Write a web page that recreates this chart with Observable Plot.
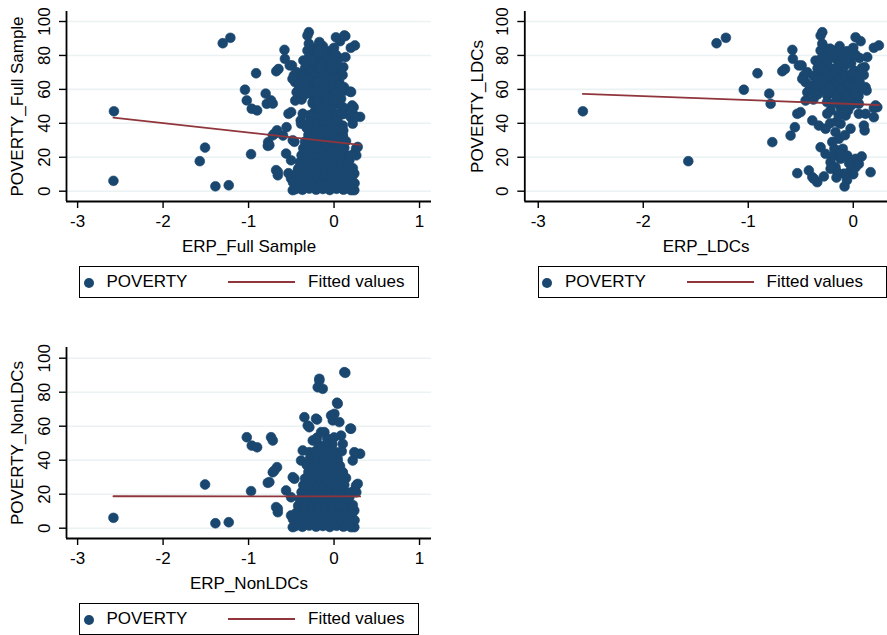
<!DOCTYPE html>
<html>
<head>
<meta charset="utf-8">
<script src="https://cdn.jsdelivr.net/npm/d3@7"></script>
<script src="https://cdn.jsdelivr.net/npm/@observablehq/plot@0.6"></script>
<style>
  html, body { margin: 0; padding: 0; background: #fff; }
  #root { position: relative; width: 887px; height: 635px; overflow: hidden; background: #fff;
          font-family: "Liberation Sans", Arial, sans-serif; }
  .panel { position: absolute; }
  .legend { position: absolute; height: 32px; box-sizing: border-box; border: 1.5px solid #000;
            background: #fff; font-size: 17px; color: #000; }
  .legend .dot { position: absolute; top: 10.5px; width: 10px; height: 10px; border-radius: 50%; background: #1a476f; }
  .legend .ln { position: absolute; top: 14.2px; height: 1.8px; background: #90353b; }
  .legend .lbl { position: absolute; top: 0; line-height: 29px; white-space: nowrap; }
</style>
</head>
<body>
<div id="root"></div>
<script>
// ---- Data ----
const ldcPoints = [
  [-2.575,47.1],[-1.571,17.7],[-1.302,87.2],[-1.213,90.4],[-1.042,59.8],[-0.912,69.5],
  [-0.800,57.5],[-0.787,51.5],[-0.771,28.9],[-0.676,70.7],[-0.650,72.0],[-0.580,83.3],
  [-0.575,78.0],[-0.597,32.8],[-0.556,37.7],[-0.533,10.6],[-0.533,45.6],[-0.502,46.6],
  [-0.492,74.1],[-0.470,68.2],[-0.454,64.2],[-0.423,58.9],[-0.454,53.4],[-0.423,12.2],
  [-0.390,8.3],[-0.343,5.3],[-0.280,8.7],[-0.311,25.9],[-0.390,41.7],[-0.328,38.7],
  [-0.295,93.7],[-0.311,91.7],[-0.359,77.0],[-0.311,82.9],[-0.280,84.9],[0.022,90.7],
  [0.070,88.4],[0.244,85.9],[0.196,84.5],[0.133,79.0],[0.108,73.1],[0.117,61.3],
  [0.127,59.3],[-0.295,86.9],[-0.152,81.9],[-0.026,81.9],[-0.026,79.0],[-0.518,74.1],
  [-0.438,70.1],[-0.486,66.2],[-0.407,62.3],[-0.438,58.3],[-0.248,75.1],[-0.121,77.0],
  [-0.280,68.2],[-0.216,65.2],[-0.121,69.2],[-0.057,66.2],[0.006,71.1],[0.022,64.2],
  [-0.169,61.3],[-0.057,59.3],[-0.248,56.4],[-0.121,54.4],[-0.010,54.4],[0.212,50.5],
  [0.053,51.5],[-0.311,60.3],[-0.343,65.2],[-0.264,36.8],[-0.216,47.6],[-0.248,45.6],
  [-0.121,49.5],[-0.073,44.6],[-0.121,39.7],[-0.169,34.8],[-0.137,30.9],[-0.026,36.8],
  [0.053,45.6],[0.117,45.6],[0.196,43.6],[0.101,38.7],[0.108,35.8],[-0.264,22.0],
  [-0.216,17.1],[-0.169,14.1],[-0.121,19.1],[-0.057,21.0],[0.022,19.1],[-0.026,12.2],
  [-0.089,10.3],[0.022,14.1],[-0.152,11.2],[-0.216,13.2],[-0.375,7.3],[-0.083,2.8],
  [0.165,11.2],[0.053,16.1],[0.229,49.5],[0.196,49.0],[-0.200,72.0],[-0.180,78.5],
  [-0.080,74.0],[-0.240,80.5],[-0.100,63.0],[-0.200,58.0],[-0.060,82.5],[0.060,78.5],
  [-0.310,70.5],[-0.380,54.0],[-0.160,41.0],[-0.200,29.0],[-0.100,25.0],[-0.180,52.0],
  [0.000,60.5],[0.050,56.0],[-0.130,85.5],[-0.050,47.5],[-0.250,52.5],
  [-0.340,72.5],[-0.260,71.0],[-0.180,68.5],[-0.100,71.5],[-0.020,75.5],[0.040,68.0],
  [-0.300,78.5],[-0.220,84.0],[-0.140,75.0],[-0.060,78.0],[0.000,84.5],[-0.360,61.5],
  [-0.280,63.5],[-0.140,65.5],[-0.040,62.5],[0.060,64.5],[0.100,68.5],[-0.260,59.0],
  [-0.160,56.0],[-0.080,57.5],[0.020,57.5],[-0.200,83.0],[-0.340,57.0],[-0.100,52.0],
  [-0.020,50.5],[-0.140,45.0],[-0.220,40.0],[-0.080,33.0],[-0.180,25.0],[-0.120,22.0],
  [-0.040,16.5],[-0.200,20.5],[0.080,20.5],[-0.160,8.0],[-0.060,6.5],[0.000,10.0],
  [-0.320,75.5],[-0.240,67.5],[-0.160,72.5],[-0.080,68.0],[-0.020,69.0],[0.080,72.5],
  [-0.260,77.5],[-0.100,80.0],[-0.180,62.5],[-0.300,66.5],[-0.220,61.0],[0.020,80.5],
  [-0.380,68.0],[-0.120,59.5],[0.090,60.5],[-0.060,55.0]
];
const nonLdcPoints = [
  [-2.581,6.1],[-1.509,25.7],[-1.388,2.9],[-1.232,3.5],[-1.021,53.5],[-0.963,48.6],
  [-0.900,47.6],[-0.971,21.8],[-0.737,53.5],[-0.717,51.6],[-0.667,35.9],[-0.717,32.9],
  [-0.775,26.7],[-0.678,12.4],[-0.658,9.4],[-0.561,22.2],[-0.503,18.2],[-0.464,29.1],
  [-0.503,7.5],[-0.483,0.6],[-0.386,39.8],[-0.347,65.3],[-0.308,60.4],[-0.211,64.4],
  [-0.172,86.9],[-0.191,82.9],[-0.132,82.0],[0.043,73.2],[0.120,91.8],[0.004,67.3],
  [-0.015,63.4],[0.062,62.4],[0.199,58.5],[0.082,54.5],[0.102,49.6],[0.237,44.7],
  [0.305,43.8],[0.218,39.8],[-0.152,56.5],[-0.249,51.6],[-0.366,45.7],[-0.094,47.6],
  [-0.191,39.8],[0.043,39.8],[0.102,32.9],[0.257,25.1],[0.237,22.2],[0.218,9.4],
  [0.237,0.6],[-0.172,87.9],[0.132,91.4],[0.035,73.8],[-0.199,63.9],[-0.035,66.3],
  [0.190,58.6],[-0.289,59.4],[-0.113,56.5],[-0.698,33.9],[-0.757,27.1],[-0.658,11.4],
  [-0.483,30.0],[-0.289,44.7],[0.257,43.8],[0.277,26.1],[0.179,18.2],[0.237,10.4],
  [0.199,0.6],
  [-0.45,1.2],[-0.37,0.8],[-0.29,1.5],[-0.21,0.9],[-0.13,1.3],[-0.05,0.7],[0.03,1.4],[0.11,0.9],[0.19,1.8],
  [-0.48,5.2],[-0.40,4.6],[-0.32,5.5],[-0.24,4.8],[-0.16,5.3],[-0.08,4.5],[0.00,5.6],[0.08,4.9],[0.16,5.2],[0.24,4.7],
  [-0.44,9.1],[-0.36,8.7],[-0.28,9.5],[-0.20,8.8],[-0.12,9.3],[-0.04,8.6],[0.04,9.4],[0.12,8.9],[0.20,9.2],
  [-0.42,13.2],[-0.34,12.6],[-0.26,13.5],[-0.18,12.8],[-0.10,13.3],[-0.02,12.7],[0.06,13.4],[0.14,12.9],[0.22,13.6],
  [-0.40,17.1],[-0.32,16.6],[-0.24,17.4],[-0.16,16.8],[-0.08,17.3],[0.00,16.7],[0.08,17.5],[0.16,16.9],
  [-0.38,21.2],[-0.30,20.7],[-0.22,21.4],[-0.14,20.8],[-0.06,21.3],[0.02,20.6],[0.10,21.5],[0.18,20.9],[0.26,21.1],
  [-0.36,25.3],[-0.28,24.8],[-0.20,25.5],[-0.12,24.7],[-0.04,25.2],[0.04,24.9],[0.12,25.6],
  [-0.34,29.2],[-0.26,28.7],[-0.18,29.4],[-0.10,28.8],[-0.02,29.3],[0.06,28.6],[0.14,29.5],
  [-0.30,33.1],[-0.22,32.6],[-0.14,33.4],[-0.06,32.8],[0.02,33.3],[0.10,32.7],
  [-0.32,37.2],[-0.24,36.7],[-0.16,37.4],[-0.08,36.8],[0.00,37.3],[0.07,36.6],
  [-0.28,41.1],[-0.20,40.6],[-0.12,41.4],[-0.04,40.8],[0.04,41.3],
  [-0.22,45.2],[-0.14,44.6],[-0.06,45.4],[0.02,44.8],[0.09,45.3],
  [-0.18,49.1],[-0.10,48.7],[-0.02,49.4],
  [-0.20,53.2],[-0.08,52.7],[0.00,53.4]
];
const fullPoints = ldcPoints.concat(nonLdcPoints);

// fitted values (endpoints of each fitted line)
const fitFullX = [-2.581, 0.305], fitFullY = [43.4, 27.3];
const fitLdcX  = [-2.575, 0.244], fitLdcY  = [57.3, 50.8];
const fitNonX  = [-2.581, 0.305], fitNonY  = [18.8, 18.7];

const yTicks = [0, 20, 40, 60, 80, 100];
const xTicksWide = [-3, -2, -1, 0, 1];
const xTicksLdc = [-3, -2, -1, 0];
const xTitles = ["ERP_Full Sample", "ERP_LDCs", "ERP_NonLDCs"];
const yTitles = ["POVERTY_Full Sample", "POVERTY_LDCs", "POVERTY_NonLDCs"];
const legendLabels = ["POVERTY", "Fitted values"];

const NAVY = "#1a476f", MAROON = "#90353b", GRID = "#eaf2f3";

function panel(o) {
  const pts = o.points.map(([x, y]) => ({x, y}));
  const fit = o.fx.map((x, i) => ({x, y: o.fy[i]}));
  return Plot.plot({
    width: o.width, height: 260,
    marginLeft: o.marginLeft, marginRight: o.marginRight, marginTop: o.marginTop, marginBottom: 260 - o.marginTop - o.plotH,
    x: {domain: o.xDomain},
    y: {domain: o.yDomain},
    style: {fontFamily: '"Liberation Sans", Arial, sans-serif', fontSize: "17px", background: "transparent", overflow: "visible", color: "black"},
    marks: [
      Plot.gridY(yTicks, {stroke: GRID, strokeOpacity: 1, strokeWidth: 1.6}),
      Plot.dot(pts, {x: "x", y: "y", r: 4.9, fill: NAVY, stroke: NAVY, strokeWidth: 0.6}),
      Plot.line(fit, {x: "x", y: "y", stroke: MAROON, strokeWidth: 1.8}),
      Plot.ruleX([o.xDomain[0]], {stroke: "black", strokeWidth: 1.8}),
      Plot.ruleY([o.yDomain[0]], {stroke: "black", strokeWidth: 1.8}),
      Plot.axisX({ticks: o.xTicks, tickSize: 7, tickPadding: 6, tickFormat: d => String(d), label: null,
                  stroke: "black", strokeWidth: 1.4, fill: "black", fontSize: 17}),
      Plot.axisY({ticks: yTicks, tickSize: 7, tickFormat: () => "", label: null, stroke: "black", strokeWidth: 1.4}),
      Plot.text(yTicks, {y: d => d, text: d => String(d), frameAnchor: "left", textAnchor: "middle", lineAnchor: "middle",
                         rotate: -90, dx: o.tickDx, fontSize: 17, fill: "black"}),
      Plot.text([o.xTitle], {text: d => d, frameAnchor: "bottom", textAnchor: "middle", lineAnchor: "middle",
                             dy: 45, fontSize: 17, fill: "black"}),
      Plot.text([o.yTitle], {text: d => d, frameAnchor: "left", textAnchor: "middle", lineAnchor: "middle",
                             rotate: -90, dx: o.titleDx, fontSize: 17, fill: "black"})
    ]
  });
}

function legend(left, top, width) {
  const d = document.createElement("div");
  d.className = "legend";
  d.style.left = left + "px"; d.style.top = top + "px"; d.style.width = width + "px";
  d.innerHTML =
    `<span class="dot" style="left:3.5px"></span>` +
    `<span class="lbl" style="left:26.5px">${legendLabels[0]}</span>` +
    `<span class="ln" style="left:148px;width:67px"></span>` +
    `<span class="lbl" style="left:228px">${legendLabels[1]}</span>`;
  return d;
}

const root = document.getElementById("root");
function place(node, left, top) {
  node.classList.add("panel");
  node.style.left = left + "px"; node.style.top = top + "px";
  root.appendChild(node);
}

place(panel({points: fullPoints, fx: fitFullX, fy: fitFullY, width: 440, marginLeft: 66, marginRight: 9,
  marginTop: 11, plotH: 190, xDomain: [-3.13, 1.14], yDomain: [-6.07, 105.9], xTicks: xTicksWide,
  xTitle: xTitles[0], yTitle: yTitles[0], tickDx: -22, titleDx: -49}), 0, 0);
place(panel({points: ldcPoints, fx: fitLdcX, fy: fitLdcY, width: 427, marginLeft: 64.3, marginRight: 0,
  marginTop: 11, plotH: 190, xDomain: [-3.128, 0.326], yDomain: [-6.07, 105.9], xTicks: xTicksLdc,
  xTitle: xTitles[1], yTitle: yTitles[1], tickDx: -22, titleDx: -47.6}), 460, 0);
place(panel({points: nonLdcPoints, fx: fitNonX, fy: fitNonY, width: 440, marginLeft: 66, marginRight: 9,
  marginTop: 11, plotH: 191, xDomain: [-3.13, 1.14], yDomain: [-6.06, 106.3], xTicks: xTicksWide,
  xTitle: xTitles[2], yTitle: yTitles[2], tickDx: -22, titleDx: -49}), 0, 336);

root.appendChild(legend(79, 266, 340));
root.appendChild(legend(537.5, 266, 349.5));
root.appendChild(legend(79, 603, 340));
</script>
</body>
</html>
